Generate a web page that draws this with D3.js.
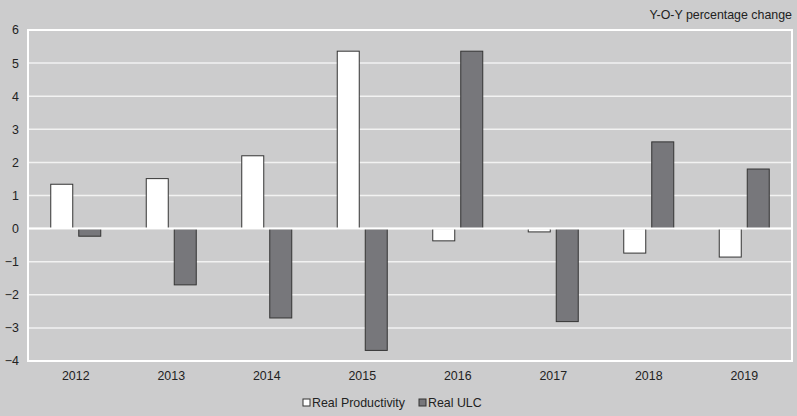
<!DOCTYPE html>
<html><head><meta charset="utf-8">
<script src="https://cdn.jsdelivr.net/npm/d3@7"></script>
<style>body{margin:0;background:#cccccd;}svg{display:block;font-family:"Liberation Sans",Arial,sans-serif;}</style>
</head><body><svg id="c" width="797" height="416"></svg>
<script>
const categories = ["2012","2013","2014","2015","2016","2017","2018","2019"];
const productivity = [1.34, 1.51, 2.2, 5.36, -0.37, -0.1, -0.74, -0.86];
const ulc = [-0.23, -1.7, -2.7, -3.68, 5.36, -2.81, 2.62, 1.8];
const yTicks = [-4,-3,-2,-1,0,1,2,3,4,5,6];
const seriesNames = ["Real Productivity","Real ULC"];
const colors = ["#ffffff","#77777b"];
const FS = 12.4;

const svg = d3.select("#c");
const m = {l:28, r:5, t:30, b:55};
const W = 797, H = 416;
svg.append("rect").attr("width",W).attr("height",H).attr("fill","#cccccd");

const x = d3.scaleBand().domain(categories).range([m.l, W-m.r]);
const y = d3.scaleLinear().domain([-4,6]).range([H-m.b, m.t]);

// gridlines
svg.append("g").selectAll("line").data(yTicks).join("line")
  .attr("x1",m.l).attr("x2",W-m.r).attr("y1",d=>y(d)).attr("y2",d=>y(d))
  .attr("stroke","#f2f2f2").attr("stroke-width",1.5);

// bars
const bw = 22, gap = 6;
const data = [productivity, ulc];
data.forEach((vals,si)=>{
  svg.append("g").selectAll("rect").data(vals).join("rect")
    .attr("x",(d,i)=>x(categories[i]) + x.bandwidth()/2 + (si===0 ? -gap/2-bw : gap/2))
    .attr("width",bw)
    .attr("y",d=>y(Math.max(0,d)))
    .attr("height",d=>Math.abs(y(d)-y(0)))
    .attr("fill",colors[si]).attr("stroke","#333").attr("stroke-width",1);
});

// zero line
svg.append("line").attr("x1",m.l).attr("x2",W-m.r).attr("y1",y(0)).attr("y2",y(0))
  .attr("stroke","#ffffff").attr("stroke-width",2);
// border
svg.append("rect").attr("x",m.l).attr("y",m.t).attr("width",W-m.r-m.l).attr("height",H-m.b-m.t)
  .attr("fill","none").attr("stroke","#ffffff").attr("stroke-width",2);

// axes
const ya = d3.axisLeft(y).tickValues(yTicks).tickSize(0).tickPadding(9).tickFormat(d3.format("d"));
const gy = svg.append("g").attr("transform",`translate(${m.l},0)`).call(ya);
gy.select(".domain").remove();
gy.selectAll("text").attr("font-size",FS).attr("fill","#222").attr("font-family","Liberation Sans, Arial, sans-serif");

const xa = d3.axisBottom(x).tickSize(0).tickPadding(10);
const gx = svg.append("g").attr("transform",`translate(0,${H-m.b})`).call(xa);
gx.select(".domain").remove();
gx.selectAll("text").attr("font-size",FS).attr("fill","#222").attr("font-family","Liberation Sans, Arial, sans-serif");

// title
svg.append("text").attr("x",792).attr("y",19).attr("text-anchor","end")
  .attr("font-size",FS).attr("fill","#222").text("Y-O-Y percentage change");

// legend
const lg = svg.append("g").attr("transform","translate(303,407)");
const lx = [0, 116];
seriesNames.forEach((n,i)=>{
  lg.append("rect").attr("x",lx[i]).attr("y",-8).attr("width",7).attr("height",7)
    .attr("fill",colors[i]).attr("stroke","#333").attr("stroke-width",1);
  lg.append("text").attr("x",lx[i]+9).attr("y",0).attr("font-size",FS).attr("fill","#222").text(n);
});
</script></body></html>
